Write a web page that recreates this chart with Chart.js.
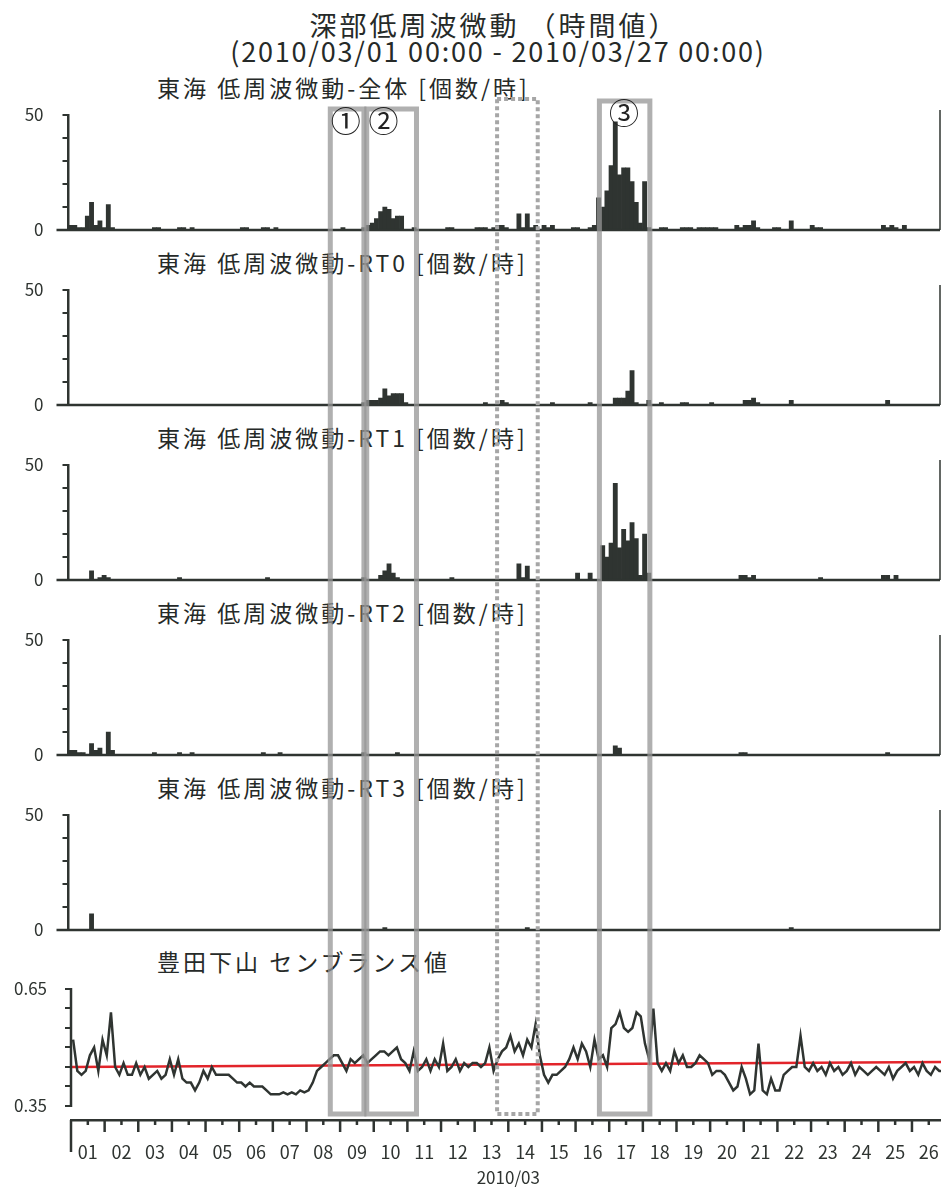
<!DOCTYPE html>
<html lang="ja">
<head>
<meta charset="utf-8">
<title>深部低周波微動（時間値）</title>
<script src="https://cdn.jsdelivr.net/npm/chart.js@4.4.1/dist/chart.umd.min.js"></script>
<style>
  html, body { margin: 0; padding: 0; background: #fff; overflow: hidden; }
  #page { position: relative; width: 960px; height: 1190px; font-family: "Noto Sans CJK JP", sans-serif; color: #262a28; }
  .txt { position: absolute; white-space: nowrap; line-height: 1; }
  .center { transform: translateX(-50%); }
  .panel-title { left: 157px; font-size: 23px; letter-spacing: 3px; }
  canvas { position: absolute; left: 0; }
</style>
</head>
<body>
<div id="page">
  <div class="txt center" style="left:494px; top:11px; font-size:27px; letter-spacing:3px;">深部低周波微動 （時間値）</div>
  <div class="txt center" style="left:498px; top:37px; font-size:27px; letter-spacing:1.8px;">(2010/03/01 00:00 - 2010/03/27 00:00)</div>
  <div class="txt panel-title" style="top:76px;">東海 低周波微動-全体 [個数/時]</div>
  <div class="txt panel-title" style="top:251px;">東海 低周波微動-RT0 [個数/時]</div>
  <div class="txt panel-title" style="top:426px;">東海 低周波微動-RT1 [個数/時]</div>
  <div class="txt panel-title" style="top:601px;">東海 低周波微動-RT2 [個数/時]</div>
  <div class="txt panel-title" style="top:776px;">東海 低周波微動-RT3 [個数/時]</div>
  <div class="txt panel-title" style="top:950px;">豊田下山 センブランス値</div>

  <canvas id="cAll" width="960" height="141" style="top:103px"></canvas>
  <canvas id="cRT0" width="960" height="141" style="top:278px"></canvas>
  <canvas id="cRT1" width="960" height="141" style="top:453px"></canvas>
  <canvas id="cRT2" width="960" height="141" style="top:628px"></canvas>
  <canvas id="cRT3" width="960" height="141" style="top:803px"></canvas>
  <canvas id="cSemb" width="960" height="213" style="top:977px"></canvas>
  <canvas id="overlay" width="960" height="1190" style="top:0"></canvas>
</div>
<script>
// 3-hour bins, 8 per day, 2010/03/01 00:00 .. 2010/03/27 00:00
const binHours = 3;
const totalHours = 624;
const dayLabels = ['01', '02', '03', '04', '05', '06', '07', '08', '09', '10', '11', '12', '13',
                   '14', '15', '16', '17', '18', '19', '20', '21', '22', '23', '24', '25', '26'];

const countAll = [
  2, 2, 1, 1, 6, 12, 2, 4,
  1, 11, 1, 0, 0, 0, 0, 0,
  0, 0, 0, 0, 1, 1, 0, 0,
  0, 0, 1, 1, 0, 1, 0, 0,
  0, 0, 0, 0, 0, 0, 0, 0,
  0, 1, 1, 0, 0, 0, 1, 1,
  0, 1, 0, 0, 0, 0, 0, 0,
  0, 0, 0, 0, 0, 0, 0, 0,
  0, 1, 0, 0, 0, 0, 1, 2,
  3, 5, 8, 10, 9, 5, 6, 6,
  0, 0, 1, 0, 0, 0, 0, 0,
  0, 0, 1, 1, 0, 0, 0, 0,
  0, 1, 1, 1, 0, 1, 2, 2,
  1, 0, 0, 7, 1, 7, 1, 2,
  0, 2, 1, 2, 0, 0, 0, 0,
  1, 1, 0, 0, 1, 2, 14, 10,
  17, 28, 47, 24, 27, 27, 21, 12,
  3, 21, 1, 0, 0, 1, 1, 0,
  0, 0, 1, 1, 1, 0, 1, 1,
  1, 1, 1, 0, 0, 0, 0, 2,
  1, 2, 2, 4, 1, 0, 0, 0,
  1, 1, 0, 0, 4, 0, 0, 0,
  0, 2, 1, 1, 0, 0, 0, 0,
  0, 0, 0, 0, 0, 0, 0, 0,
  0, 0, 2, 1, 2, 1, 0, 2,
  0, 0, 0, 0, 0, 0, 0, 0
];

const countRT0 = [
  0, 0, 0, 0, 0, 0, 0, 0,
  0, 0, 0, 0, 0, 0, 0, 0,
  0, 0, 0, 0, 0, 0, 0, 0,
  0, 0, 0, 0, 0, 0, 0, 0,
  0, 0, 0, 0, 0, 0, 0, 0,
  0, 0, 0, 0, 0, 0, 0, 0,
  0, 0, 0, 0, 0, 0, 0, 0,
  0, 0, 0, 0, 0, 0, 0, 0,
  0, 0, 0, 0, 0, 0, 1, 2,
  2, 2, 3, 7, 4, 5, 5, 5,
  1, 0, 0, 0, 0, 0, 0, 0,
  0, 0, 0, 0, 0, 0, 0, 0,
  0, 0, 0, 1, 0, 0, 0, 2,
  1, 0, 0, 0, 0, 0, 0, 0,
  0, 0, 0, 1, 0, 0, 0, 0,
  0, 0, 0, 0, 1, 0, 0, 0,
  0, 0, 3, 3, 3, 6, 15, 1,
  0, 0, 2, 0, 0, 1, 0, 0,
  0, 0, 1, 1, 0, 0, 0, 0,
  0, 1, 0, 0, 0, 0, 0, 0,
  0, 2, 2, 3, 1, 0, 0, 0,
  0, 0, 0, 0, 2, 0, 0, 0,
  0, 0, 0, 0, 0, 0, 0, 0,
  0, 0, 0, 0, 0, 0, 0, 0,
  0, 0, 0, 2, 0, 0, 0, 0,
  0, 0, 0, 0, 0, 0, 0, 0
];

const countRT1 = [
  0, 0, 0, 0, 0, 4, 0, 1,
  2, 1, 0, 0, 0, 0, 0, 0,
  0, 0, 0, 0, 0, 0, 0, 0,
  0, 0, 1, 0, 0, 0, 0, 0,
  0, 0, 0, 0, 0, 0, 0, 0,
  0, 0, 0, 0, 0, 0, 0, 1,
  0, 0, 0, 0, 0, 0, 0, 0,
  0, 0, 0, 0, 0, 0, 0, 0,
  0, 0, 0, 0, 0, 0, 1, 0,
  0, 0, 2, 4, 7, 3, 1, 0,
  0, 0, 0, 0, 0, 0, 0, 0,
  0, 0, 0, 1, 0, 0, 0, 0,
  0, 0, 0, 0, 0, 0, 0, 0,
  0, 0, 0, 7, 1, 6, 0, 0,
  0, 0, 0, 0, 0, 0, 0, 0,
  0, 3, 0, 0, 3, 0, 0, 15,
  10, 16, 42, 14, 22, 17, 25, 18,
  2, 20, 3, 0, 0, 0, 0, 0,
  0, 0, 0, 0, 0, 0, 0, 0,
  0, 0, 0, 0, 0, 0, 0, 0,
  2, 2, 1, 2, 0, 0, 0, 0,
  0, 0, 0, 0, 0, 0, 0, 0,
  0, 0, 0, 1, 0, 0, 0, 0,
  0, 0, 0, 0, 0, 0, 0, 0,
  0, 0, 2, 2, 0, 2, 0, 0,
  0, 0, 0, 0, 0, 0, 0, 0
];

const countRT2 = [
  2, 2, 1, 1, 0, 5, 2, 3,
  0, 10, 2, 0, 0, 0, 0, 0,
  0, 0, 0, 0, 1, 0, 0, 0,
  0, 0, 1, 0, 0, 1, 0, 0,
  0, 0, 0, 0, 0, 0, 0, 0,
  0, 0, 0, 0, 0, 0, 1, 0,
  0, 0, 1, 0, 0, 0, 0, 0,
  0, 0, 0, 0, 0, 0, 0, 0,
  0, 0, 0, 0, 0, 0, 1, 0,
  0, 0, 0, 0, 0, 0, 1, 0,
  0, 0, 0, 0, 0, 0, 0, 0,
  0, 0, 0, 0, 0, 0, 0, 0,
  0, 0, 0, 0, 0, 0, 0, 0,
  0, 0, 0, 0, 0, 0, 0, 0,
  0, 0, 0, 0, 0, 0, 0, 0,
  0, 0, 0, 0, 0, 0, 0, 0,
  0, 0, 4, 3, 0, 0, 0, 0,
  0, 0, 0, 0, 0, 0, 0, 0,
  0, 0, 0, 0, 0, 0, 0, 0,
  0, 0, 0, 0, 0, 0, 0, 0,
  1, 1, 0, 0, 0, 0, 0, 0,
  0, 0, 0, 0, 0, 0, 0, 0,
  0, 0, 0, 0, 0, 0, 0, 0,
  0, 0, 0, 0, 0, 0, 0, 0,
  0, 0, 0, 1, 0, 0, 0, 0,
  0, 0, 0, 0, 0, 0, 0, 0
];

const countRT3 = [
  0, 0, 0, 0, 0, 7, 0, 0,
  0, 0, 0, 0, 0, 0, 0, 0,
  0, 0, 0, 0, 0, 0, 0, 0,
  0, 0, 0, 0, 0, 0, 0, 0,
  0, 0, 0, 0, 0, 0, 0, 0,
  0, 0, 0, 0, 0, 0, 0, 0,
  0, 0, 0, 0, 0, 0, 0, 0,
  0, 0, 0, 0, 0, 0, 0, 0,
  0, 0, 0, 0, 0, 0, 0, 0,
  0, 0, 0, 1, 0, 0, 0, 0,
  0, 0, 0, 0, 0, 0, 0, 0,
  0, 0, 0, 0, 0, 0, 0, 0,
  0, 0, 0, 0, 0, 0, 0, 0,
  0, 0, 0, 0, 0, 1, 0, 0,
  0, 0, 0, 0, 0, 0, 0, 0,
  0, 0, 0, 0, 0, 0, 0, 0,
  0, 0, 0, 0, 0, 0, 0, 0,
  0, 0, 0, 0, 0, 0, 0, 0,
  0, 0, 0, 0, 0, 0, 0, 0,
  0, 0, 0, 0, 0, 0, 0, 0,
  0, 0, 0, 0, 0, 0, 0, 0,
  0, 0, 0, 0, 1, 0, 0, 0,
  0, 0, 0, 0, 0, 0, 0, 0,
  0, 0, 0, 0, 0, 0, 0, 0,
  0, 0, 0, 0, 0, 0, 0, 0,
  0, 0, 0, 0, 0, 0, 0, 0
];

const semblance = [
  0.52, 0.44, 0.43, 0.44, 0.48, 0.50, 0.44, 0.52,
  0.48, 0.59, 0.45, 0.43, 0.46, 0.43, 0.43, 0.46,
  0.43, 0.45, 0.42, 0.43, 0.44, 0.42, 0.43, 0.47,
  0.43, 0.47, 0.42, 0.41, 0.41, 0.39, 0.41, 0.44,
  0.42, 0.45, 0.43, 0.43, 0.43, 0.43, 0.42, 0.41,
  0.41, 0.40, 0.41, 0.40, 0.40, 0.40, 0.39, 0.38,
  0.38, 0.38, 0.385, 0.38, 0.385, 0.38, 0.39, 0.385,
  0.39, 0.41, 0.44, 0.45, 0.46, 0.47, 0.48, 0.48,
  0.46, 0.44, 0.47, 0.46, 0.47, 0.48, 0.46, 0.47,
  0.48, 0.49, 0.49, 0.48, 0.49, 0.50, 0.47, 0.46,
  0.44, 0.49, 0.44, 0.45, 0.47, 0.44, 0.47, 0.45,
  0.51, 0.44, 0.45, 0.47, 0.44, 0.46, 0.45, 0.46,
  0.46, 0.45, 0.46, 0.50, 0.44, 0.47, 0.49, 0.50,
  0.53, 0.49, 0.51, 0.48, 0.52, 0.50, 0.56, 0.48,
  0.43, 0.41, 0.43, 0.43, 0.44, 0.45, 0.47, 0.50,
  0.47, 0.51, 0.49, 0.45, 0.52, 0.47, 0.48, 0.45,
  0.55, 0.56, 0.59, 0.55, 0.54, 0.55, 0.59, 0.58,
  0.51, 0.47, 0.60, 0.46, 0.44, 0.46, 0.44, 0.49,
  0.46, 0.48, 0.45, 0.45, 0.46, 0.48, 0.47, 0.46,
  0.43, 0.44, 0.44, 0.43, 0.41, 0.39, 0.40, 0.45,
  0.42, 0.38, 0.39, 0.51, 0.39, 0.38, 0.42, 0.39,
  0.39, 0.43, 0.44, 0.45, 0.45, 0.53, 0.45, 0.44,
  0.46, 0.44, 0.45, 0.43, 0.46, 0.44, 0.45, 0.43,
  0.44, 0.46, 0.43, 0.45, 0.44, 0.43, 0.44, 0.45,
  0.44, 0.43, 0.45, 0.42, 0.44, 0.45, 0.46, 0.44,
  0.45, 0.43, 0.46, 0.44, 0.43, 0.45, 0.44, 0.44
];

// red reference line: value at 03/01 00:00 and at 03/27 00:00
const semblanceRef = [0.450, 0.463];

const countTicks = [0, 10, 20, 30, 40, 50];
const countLabels = [0, 50];
const sembTicks = [0.35, 0.40, 0.45, 0.50, 0.55, 0.60, 0.65];
const sembLabels = [0.35, 0.65];

// marked periods in hours from 03/01 00:00 (start, end), circled number and where it sits
const boxSpans = [[185, 209], [211, 246.5], [304, 333], [377, 413]];
const boxMarks = ['①', '②', '', '③'];
const boxMarkHours = [196, 223, null, 394.5];

const ink = '#2f3431';
const tickFont = { family: '"Noto Sans CJK JP", sans-serif', size: 17 };

function binned(values) {
  return values.map((v, i) => ({ x: i * binHours + binHours / 2, y: v }));
}

// keep tick label padding from eating into the plot height
function noScalePadding(s) {
  s.paddingTop = 0;
  s.paddingBottom = 0;
  s.paddingLeft = 0;
  s.paddingRight = 0;
}

// zero line reaching left past the axis, and the right edge of each panel
const countFrame = {
  id: 'countFrame',
  afterDatasetsDraw(chart) {
    const { ctx, chartArea: a } = chart;
    ctx.save();
    ctx.strokeStyle = ink;
    ctx.lineWidth = 2.5;
    ctx.beginPath();
    ctx.moveTo(a.left - 12, a.bottom);
    ctx.lineTo(a.right, a.bottom);
    ctx.stroke();
    ctx.lineWidth = 1.5;
    ctx.beginPath();
    ctx.moveTo(a.right, a.top - 5);
    ctx.lineTo(a.right, a.bottom);
    ctx.stroke();
    ctx.restore();
  }
};

function countChart(id, values) {
  return new Chart(document.getElementById(id), {
    type: 'bar',
    data: {
      datasets: [{
        data: binned(values),
        backgroundColor: ink,
        borderWidth: 0,
        barPercentage: 1,
        categoryPercentage: 1
      }]
    },
    options: {
      responsive: false,
      animation: false,
      events: [],
      layout: { padding: { top: 12, bottom: 14, left: 0, right: 20 } },
      plugins: { legend: { display: false }, tooltip: { enabled: false } },
      scales: {
        x: { type: 'linear', min: 0, max: totalHours, offset: false, display: false },
        y: {
          min: 0,
          max: 50,
          afterFit: s => { s.width = 68.5; noScalePadding(s); },
          afterBuildTicks: s => { s.ticks = countTicks.map(v => ({ value: v })); },
          border: { display: true, color: ink, width: 2.5 },
          grid: { drawOnChartArea: false, tickLength: 6, color: ink, lineWidth: 2 },
          ticks: {
            autoSkip: false,
            padding: 19,
            color: ink,
            font: tickFont,
            callback: v => countLabels.includes(v) ? String(v) : ''
          }
        }
      }
    },
    plugins: [countFrame]
  });
}

countChart('cAll', countAll);
countChart('cRT0', countRT0);
countChart('cRT1', countRT1);
countChart('cRT2', countRT2);
countChart('cRT3', countRT3);

// y axis drawn only over the labelled range, day / half-day ticks under the time axis
const sembFrame = {
  id: 'sembFrame',
  afterDraw(chart) {
    const { ctx, chartArea: a, scales: { x, y } } = chart;
    ctx.save();
    ctx.strokeStyle = ink;
    ctx.lineWidth = 2.5;
    ctx.beginPath();
    ctx.moveTo(a.left, y.getPixelForValue(sembTicks[sembTicks.length - 1]) - 1);
    ctx.lineTo(a.left, y.getPixelForValue(sembTicks[0]) + 1);
    ctx.stroke();
    for (let h = 0; h <= totalHours; h += 12) {
      const px = x.getPixelForValue(h);
      const len = h === 0 ? 32 : (h % 24 === 0 ? 12 : 5);
      ctx.beginPath();
      ctx.moveTo(px, a.bottom);
      ctx.lineTo(px, a.bottom + len);
      ctx.stroke();
    }
    ctx.restore();
  }
};

const semb = new Chart(document.getElementById('cSemb'), {
  type: 'line',
  data: {
    datasets: [
      {
        data: binned(semblance),
        borderColor: ink,
        borderWidth: 2.5,
        pointRadius: 0,
        tension: 0
      },
      {
        data: [{ x: 0, y: semblanceRef[0] }, { x: totalHours, y: semblanceRef[1] }],
        borderColor: '#e2242a',
        borderWidth: 2.5,
        pointRadius: 0
      }
    ]
  },
  options: {
    responsive: false,
    animation: false,
    events: [],
    layout: { padding: { top: 12, bottom: 0, left: 0, right: 14.4 } },
    plugins: { legend: { display: false }, tooltip: { enabled: false } },
    scales: {
      x: {
        type: 'linear',
        min: 0,
        max: totalHours,
        offset: false,
        afterFit: s => { s.height = 70; noScalePadding(s); },
        border: { display: true, color: ink, width: 2.5 },
        grid: { display: false, drawTicks: false },
        ticks: {
          stepSize: 12,
          autoSkip: false,
          maxRotation: 0,
          padding: 21,
          color: ink,
          font: { family: '"Noto Sans CJK JP", sans-serif', size: 18 },
          callback: v => (v % 24 === 12) ? dayLabels[(v - 12) / 24] : ''
        },
        title: {
          display: true,
          text: '2010/03',
          color: ink,
          font: { family: '"Noto Sans CJK JP", sans-serif', size: 17 },
          padding: { top: 0, bottom: 2 }
        }
      },
      y: {
        min: 0.3141,
        max: 0.65,
        afterFit: s => { s.width = 71; noScalePadding(s); },
        afterBuildTicks: s => { s.ticks = sembTicks.map(v => ({ value: v })); },
        border: { display: false },
        grid: { drawOnChartArea: false, tickLength: 6, color: ink, lineWidth: 2 },
        ticks: {
          autoSkip: false,
          padding: 18,
          color: ink,
          font: tickFont,
          callback: v => sembLabels.includes(v) ? v.toFixed(2) : ''
        }
      }
    }
  },
  plugins: [sembFrame]
});

// gray frames over all panels for the marked periods
function drawBoxes(xScale) {
  const ctx = document.getElementById('overlay').getContext('2d');
  const tops = [109, 109, 99, 101];
  const bottom = 1114;
  boxSpans.forEach(([h0, h1], i) => {
    const x0 = xScale.getPixelForValue(h0);
    const x1 = xScale.getPixelForValue(h1);
    ctx.save();
    if (boxMarks[i] === '') {
      ctx.strokeStyle = '#a6a6a6';
      ctx.lineWidth = 4;
      ctx.setLineDash([4, 3]);
    } else {
      ctx.strokeStyle = 'rgba(150, 150, 150, 0.75)';
      ctx.lineWidth = 5;
    }
    ctx.strokeRect(x0, tops[i], x1 - x0, bottom - tops[i]);
    ctx.restore();
    if (boxMarks[i]) {
      ctx.save();
      ctx.fillStyle = '#222';
      ctx.font = '30px "Noto Sans CJK JP", sans-serif';
      ctx.textAlign = 'center';
      ctx.textBaseline = 'middle';
      ctx.fillText(boxMarks[i], xScale.getPixelForValue(boxMarkHours[i]), tops[i] + 12);
      ctx.restore();
    }
  });
}

drawBoxes(semb.scales.x);
</script>
</body>
</html>
